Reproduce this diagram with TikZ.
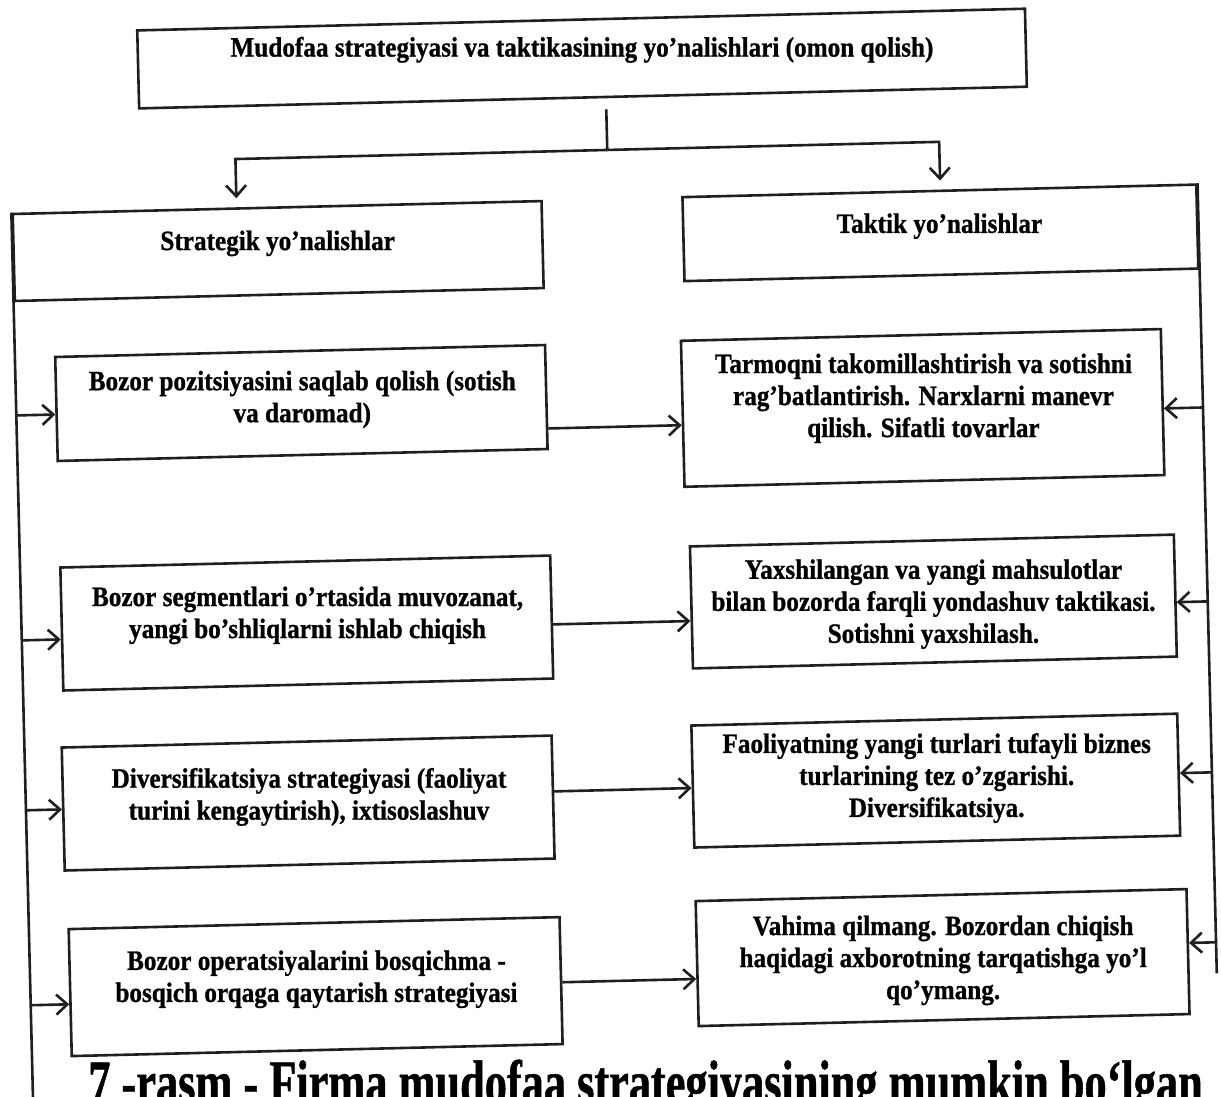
\documentclass[tikz,border=0pt]{standalone}
\usepackage{fontspec}
\setmainfont{Liberation Serif}
\newfontfamily\boxfont[FakeStretch=0.90,FakeBold=0.9]{Liberation Serif}
\newfontfamily\capfont[FakeStretch=0.715,FakeBold=0.8]{Liberation Serif}
\usetikzlibrary{arrows.meta}
\definecolor{ink}{gray}{0.12}

\begin{document}
\begin{tikzpicture}[x=1pt, y=-1pt,
  frame/.style={draw=ink, line width=2.6pt, rectangle, inner sep=0pt, transform shape},
  wire/.style={draw=ink, line width=2.6pt},
  arr/.style={wire, -{Straight Barb[length=11pt,width=20pt]}},
  txt/.style={font=\boxfont\bfseries\fontsize{28}{32}\selectfont, align=center, inner sep=0pt},
  captxt/.style={font=\capfont\bfseries\fontsize{62}{62}\selectfont, inner sep=0pt}]

\useasboundingbox (0,0) rectangle (1221,1097);
\clip (0,0) rectangle (1221,1097);
\fill[white] (0,0) rectangle (1221,1097);

% the whole sheet sits slightly turned
\begin{scope}[rotate around={1.4:(610,548)}]

% header
\node[frame, minimum width=888pt, minimum height=78pt] (top) at (594,58) {};
\node[txt, anchor=base] (topT) at (594,56) {Mudofaa strategiyasi va taktikasining yo’nalishlari (omon qolish)};

% two column headers
\node[frame, minimum width=529pt, minimum height=87pt] (strat) at (285.5,243) {};
\node[txt, anchor=base] (stratT) at (285,242) {Strategik yo’nalishlar};
\node[frame, minimum width=514pt, minimum height=84pt] (tact) at (948,241) {};
\node[txt, anchor=base] (tactT) at (947,241) {Taktik yo’nalishlar};

% strategic boxes
\node[frame, minimum width=490pt, minimum height=104pt] (L1) at (305,395.5) {};
\node[txt] (L1T) at (306,392) {Bozor pozitsiyasini saqlab qolish (sotish\\va daromad)};
\node[frame, minimum width=490pt, minimum height=123pt] (L2) at (305,615.6) {};
\node[txt] (L2T) at (306,608) {Bozor segmentlari o’rtasida muvozanat,\\yangi bo’shliqlarni ishlab chiqish};
\node[frame, minimum width=490pt, minimum height=123pt] (L3) at (302,795.6) {};
\node[txt] (L3T) at (303,789.5) {Diversifikatsiya strategiyasi (faoliyat\\turini kengaytirish), ixtisoslashuv};
\node[frame, minimum width=491pt, minimum height=127pt] (L4) at (305,979.3) {};
\node[txt] (L4T) at (306,972) {Bozor operatsiyalarini bosqichma -\\bosqich orqaga qaytarish strategiyasi};

% tactical boxes
\node[frame, minimum width=480pt, minimum height=146pt] (R1) at (926,415.6) {};
\node[txt] (R1T) at (927,406) {Tarmoqni takomillashtirish va sotishni\\rag’batlantirish. Narxlarni manevr\\qilish. Sifatli tovarlar};
\node[frame, minimum width=484pt, minimum height=122pt] (R2) at (932,609.4) {};
\node[txt] (R2T) at (932,612) {Yaxshilangan va yangi mahsulotlar\\bilan bozorda farqli yondashuv taktikasi.\\Sotishni yaxshilash.};
\node[frame, minimum width=486pt, minimum height=122pt] (R3) at (930,788.5) {};
\node[txt] (R3T) at (931,786) {Faoliyatning yangi turlari tufayli biznes\\turlarining tez o’zgarishi.\\Diversifikatsiya.};
\node[frame, minimum width=491pt, minimum height=125pt] (R4) at (932.5,965.6) {};
\node[txt] (R4T) at (933,968.5) {Vahima qilmang. Bozordan chiqish\\haqidagi axborotning tarqatishga yo’l\\qo’ymang.};

% caption
\node[captxt, anchor=base] (cap) at (632,1104) {7 -rasm - Firma mudofaa strategiyasining mumkin bo‘lgan};

% split from the header
\coordinate (split) at (617,150);
\coordinate (jl) at (245,150);
\coordinate (jr) at (949,150);
\draw[wire, shorten <=11pt] (top.south -| split) -- (split);
\draw[arr, shorten >=9pt] (split) -| (jl |- strat.north);
\draw[arr, shorten >=9pt] (split) -| (jr |- tact.north);

% side spines
\coordinate (lend) at (0,1125);
\coordinate (rend) at (0,988);
\draw[wire] (strat.north west) -- (strat.west |- lend);
\draw[wire] (tact.north east) -- (tact.east |- rend);

% row levels
\coordinate (li1) at (0,401);  \coordinate (mi1) at (0,427); \coordinate (ri1) at (0,422);
\coordinate (li2) at (0,626);  \coordinate (mi2) at (0,623); \coordinate (ri2) at (0,616);
\coordinate (li3) at (0,796);  \coordinate (mi3) at (0,790); \coordinate (ri3) at (0,787);
\coordinate (li4) at (0,991);  \coordinate (mi4) at (0,981); \coordinate (ri4) at (0,957);

\foreach \i in {1,2,3,4}{
  \draw[arr] (strat.west |- li\i) -- (L\i.west |- li\i);
  \draw[arr] (L\i.east |- mi\i) -- (R\i.west |- mi\i);
  \draw[arr] (tact.east |- ri\i) -- (R\i.east |- ri\i);
}
\end{scope}
\end{tikzpicture}
\end{document}
